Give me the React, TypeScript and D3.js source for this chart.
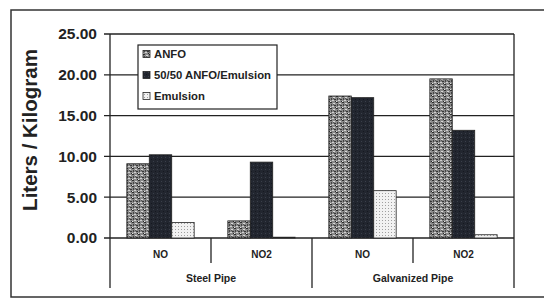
import React from "react";
import * as d3 from "d3";

const groups = ["Steel Pipe", "Galvanized Pipe"];
const categories = ["NO", "NO2", "NO", "NO2"];
const categoryGroup = [0, 0, 1, 1];
const seriesNames = ["ANFO", "50/50 ANFO/Emulsion", "Emulsion"];
const anfo = [9.1, 2.1, 17.4, 19.5];
const mix = [10.2, 9.3, 17.2, 13.2];
const emulsion = [1.9, 0.1, 5.8, 0.4];
const yTicks = [0, 5, 10, 15, 20, 25];

const W = 544;
const H = 300;
const left = 110;
const right = 514;
const top = 34;
const bottom = 238;

export default function App() {
  const x = d3.scaleBand<number>().domain(d3.range(categories.length)).range([left, right]);
  const y = d3.scaleLinear().domain([0, 25]).range([bottom, top]);
  const inner = d3
    .scaleBand<number>()
    .domain([0, 1, 2])
    .range([0, x.bandwidth()])
    .paddingOuter(0.75)
    .paddingInner(0);
  const series = [anfo, mix, emulsion];
  const fills = ["url(#pAnfo)", "url(#pMix)", "url(#pEm)"];
  const font = "'Liberation Sans', Arial, sans-serif";

  return (
    <svg width={W} height={H} style={{ position: "absolute", left: 0, top: 0, background: "#fff" }}>
      <defs>
        <pattern id="pAnfo" width="6" height="6" patternUnits="userSpaceOnUse">
          <rect width="6" height="6" fill="#8a8a8a" />
          <rect x="0" y="0" width="2" height="1" fill="#2e2e2e" />
          <rect x="3" y="1" width="2" height="1" fill="#d8d8d8" />
          <rect x="1" y="2" width="1" height="2" fill="#444" />
          <rect x="4" y="3" width="2" height="1" fill="#383838" />
          <rect x="2" y="4" width="2" height="1" fill="#d0d0d0" />
          <rect x="0" y="5" width="1" height="1" fill="#e6e6e6" />
          <rect x="5" y="5" width="1" height="1" fill="#2a2a2a" />
          <rect x="3" y="2" width="1" height="1" fill="#555" />
        </pattern>
        <pattern id="pMix" width="4" height="4" patternUnits="userSpaceOnUse">
          <rect width="4" height="4" fill="#22262f" />
          <rect x="1" y="1" width="1" height="1" fill="#3a3f4a" />
          <rect x="3" y="3" width="1" height="1" fill="#151820" />
        </pattern>
        <pattern id="pEm" width="3" height="3" patternUnits="userSpaceOnUse">
          <rect width="3" height="3" fill="#f2f2f2" />
          <rect x="1" y="1" width="1" height="1" fill="#a0a0a0" />
        </pattern>
      </defs>
      {/* outer frame */}
      <rect x={11} y={10} width={560} height={287} fill="none" stroke="#333" strokeWidth={1.5} />
      {/* gridlines */}
      {yTicks.map((t) => (
        <line key={t} x1={left - 6} x2={right} y1={y(t)} y2={y(t)} stroke="#222" strokeWidth={1.3} />
      ))}
      {/* tick labels */}
      {yTicks.map((t) => (
        <text
          key={"l" + t}
          x={97}
          y={y(t)}
          dy="0.35em"
          textAnchor="end"
          fontFamily={font}
          fontWeight="bold"
          fontSize={15.5}
          fill="#222"
        >
          {t.toFixed(2)}
        </text>
      ))}
      <text
        transform={`translate(37,130) rotate(-90)`}
        textAnchor="middle"
        fontFamily={font}
        fontWeight="bold"
        fontSize={20.5}
        fill="#222"
      >
        Liters / Kilogram
      </text>
      {/* bars */}
      {series.map((vals, s) =>
        vals.map((v, i) => (
          <rect
            key={s + "-" + i}
            x={(x(i) as number) + (inner(s) as number)}
            y={y(v)}
            width={inner.bandwidth()}
            height={bottom - y(v)}
            fill={fills[s]}
            stroke="#222"
            strokeWidth={0.8}
          />
        ))
      )}
      {/* plot frame */}
      <line x1={left} x2={left} y1={top} y2={288} stroke="#222" strokeWidth={1.3} />
      <line x1={right} x2={right} y1={top} y2={288} stroke="#222" strokeWidth={1.3} />
      {/* category separators */}
      {categories.map((c, i) =>
        i === 0 ? null : (
          <line
            key={"s" + i}
            x1={x(i) as number}
            x2={x(i) as number}
            y1={bottom}
            y2={categoryGroup[i] !== categoryGroup[i - 1] ? 288 : 263}
            stroke="#222"
            strokeWidth={1.3}
          />
        )
      )}
      {categories.map((c, i) => (
        <text
          key={"c" + i}
          x={(x(i) as number) + x.bandwidth() / 2}
          y={258}
          textAnchor="middle"
          fontFamily={font}
          fontWeight="bold"
          fontSize={10}
          fill="#222"
        >
          {c}
        </text>
      ))}
      {groups.map((g, gi) => (
        <text
          key={"g" + gi}
          x={(x(gi * 2) as number) + x.bandwidth()}
          y={282}
          textAnchor="middle"
          fontFamily={font}
          fontWeight="bold"
          fontSize={10.5}
          fill="#222"
        >
          {g}
        </text>
      ))}
      {/* legend */}
      <g>
        <rect x={138} y={45} width={139} height={64} fill="#fff" stroke="#222" strokeWidth={1.2} />
        {seriesNames.map((n, i) => (
          <g key={n} transform={`translate(143,${54 + i * 21})`}>
            <rect x={0} y={-3.5} width={7} height={7} fill={fills[i]} stroke="#222" strokeWidth={0.8} />
            <text x={11} y={0} dy="0.35em" fontFamily={font} fontWeight="bold" fontSize={11.3} fill="#222">
              {n}
            </text>
          </g>
        ))}
      </g>
    </svg>
  );
}
